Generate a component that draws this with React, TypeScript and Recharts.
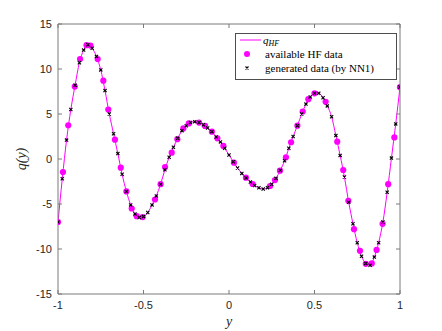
import { ComposedChart, Line, Scatter, XAxis, YAxis } from "recharts";

// NN1 generated points (also used to draw the q_HF curve)
const genY = [
  -1, -0.975, -0.95, -0.925, -0.9, -0.875, -0.85, -0.825, -0.8, -0.775, -0.75, -0.725, -0.7, -0.675,
  -0.65, -0.625, -0.6, -0.575, -0.55, -0.525, -0.5, -0.475, -0.45, -0.425, -0.4, -0.375, -0.35,
  -0.325, -0.3, -0.275, -0.25, -0.225, -0.2, -0.175, -0.15, -0.125, -0.1, -0.075, -0.05, -0.025,
  0, 0.025, 0.05, 0.075, 0.1, 0.125, 0.15, 0.175, 0.2, 0.225, 0.25, 0.275, 0.3, 0.325, 0.35, 0.375,
  0.4, 0.425, 0.45, 0.475, 0.5, 0.525, 0.55, 0.575, 0.6, 0.625, 0.65, 0.675, 0.7, 0.725, 0.75,
  0.775, 0.8, 0.825, 0.85, 0.875, 0.9, 0.925, 0.95, 0.975, 1,
];
const genQ = [
  -7.0, -2.2, 2.1, 5.5, 8.2, 10.7, 12.1, 12.7, 12.3, 11.4, 9.9, 7.6, 5.0, 2.8,
  0.6, -1.7, -3.6, -5.1, -6.1, -6.5, -6.4, -5.95, -5.1, -4.1, -2.8, -1.2, 0.2,
  1.3, 2.3, 3.15, 3.7, 4.05, 4.15, 4.05, 3.8, 3.45, 3.04, 2.45, 1.9, 1.2,
  0.45, -0.3, -1.0, -1.6, -2.1, -2.55, -2.95, -3.2, -3.34, -3.2, -2.8, -2.15, -1.25, -0.2, 1.2, 2.5,
  3.7, 5.0, 6.1, 6.9, 7.3, 7.3, 6.8, 5.9, 4.7, 2.6, 0.4, -2.0, -4.8, -7.2, -9.3,
  -10.8, -11.6, -11.8, -10.9, -9.3, -7.0, -3.7, 0.1, 3.9, 8.0,
];

// available HF data
const hfY = [
  -1, -0.971, -0.94, -0.902, -0.871, -0.833, -0.81, -0.768, -0.735, -0.706, -0.667, -0.633, -0.6,
  -0.569, -0.54, -0.505, -0.433, -0.4, -0.374, -0.335, -0.302, -0.267, -0.235, -0.175, -0.14, -0.1,
  -0.068, -0.033, 0.029, 0.099, 0.138, 0.24, 0.269, 0.298, 0.333, 0.363, 0.4, 0.431, 0.464, 0.5,
  0.565, 0.633, 0.668, 0.698, 0.731, 0.766, 0.8, 0.835, 0.863, 0.898, 0.931, 0.967, 1,
];
const hfQ = [
  -7.0, -1.45, 3.75, 8.05, 11.1, 12.65, 12.6, 11.1, 8.7, 5.5, 2.15, -0.96, -3.6,
  -5.5, -6.35, -6.45, -4.5, -2.8, -0.9, 0.7, 2.2, 3.4, 3.95, 4.05, 3.67, 3.04,
  2.3, 1.45, -0.41, -2.08, -2.78, -3.0, -2.34, -1.3, 0.19, 1.86, 3.7, 5.27, 6.65, 7.3,
  6.35, 1.93, -1.22, -4.64, -7.8, -10.2, -11.65, -11.6, -10.1, -7.2, -2.8, 2.4, 7.98,
];

const xTicks = [-1, -0.5, 0, 0.5, 1];
const yTicks = [-15, -10, -5, 0, 5, 10, 15];

const genData = genY.map((y, i) => ({ y, q: genQ[i] }));
const hfData = hfY.map((y, i) => ({ y, q: hfQ[i] }));

const MAGENTA = "#ff00ff";
const AXIS = "#7a7a7a";
const tickFont = { fill: "#262626", fontSize: 11, fontFamily: "Liberation Sans, Arial, sans-serif" };
const serif = "Liberation Serif, DejaVu Serif, serif";

const Cross = (props: any) => {
  const { cx, cy } = props;
  const s = 1.6;
  return (
    <path
      d={`M${cx - s},${cy - s}L${cx + s},${cy + s}M${cx - s},${cy + s}L${cx + s},${cy - s}`}
      stroke="#000"
      strokeWidth={1.1}
      fill="none"
    />
  );
};

const Dot = (props: any) => <circle cx={props.cx} cy={props.cy} r={3.1} fill={MAGENTA} />;

const empty = () => <g />;

export default function App() {
  return (
    <div style={{ position: "relative", width: 442, height: 331, background: "#fff" }}>
      <style>{"body{margin:0}"}</style>
      <ComposedChart width={442} height={331} margin={{ top: 23, right: 41, bottom: 36, left: 57 }}>
        <XAxis
          xAxisId="b"
          type="number"
          dataKey="y"
          domain={[-1, 1]}
          ticks={xTicks}
          height={1}
          stroke={AXIS}
          tick={tickFont}
          tickSize={-4}
          tickMargin={11}
          allowDataOverflow
          label={{
            content: () => (
              <text x={229} y={326} textAnchor="middle" fontFamily={serif} fontStyle="italic" fontSize={14} fill="#262626">
                y
              </text>
            ),
          }}
        />
        <XAxis
          xAxisId="t"
          orientation="top"
          type="number"
          dataKey="y"
          domain={[-1, 1]}
          ticks={xTicks}
          height={1}
          stroke={AXIS}
          tick={empty}
          tickSize={-4}
          allowDataOverflow
        />
        <YAxis
          yAxisId="l"
          type="number"
          dataKey="q"
          domain={[-15, 15]}
          ticks={yTicks}
          width={1}
          stroke={AXIS}
          tick={tickFont}
          tickSize={-4}
          tickMargin={10}
          allowDataOverflow
          label={{
            content: () => (
              <text
                x={26}
                y={159}
                transform="rotate(-90 26 159)"
                textAnchor="middle"
                fontFamily={serif}
                fontStyle="italic"
                fontSize={14}
                fill="#262626"
              >
                q(y)
              </text>
            ),
          }}
        />
        <YAxis
          yAxisId="r"
          orientation="right"
          type="number"
          dataKey="q"
          domain={[-15, 15]}
          ticks={yTicks}
          width={1}
          stroke={AXIS}
          tick={empty}
          tickSize={-4}
          allowDataOverflow
        />
        <Line
          xAxisId="b"
          yAxisId="l"
          data={genData}
          dataKey="q"
          type="monotone"
          stroke={MAGENTA}
          strokeWidth={1}
          dot={false}
          isAnimationActive={false}
        />
        <Scatter xAxisId="b" yAxisId="l" data={hfData} dataKey="q" shape={Dot} isAnimationActive={false} />
        <Scatter xAxisId="b" yAxisId="l" data={genData} dataKey="q" shape={Cross} isAnimationActive={false} />
      </ComposedChart>
      <svg width={442} height={331} style={{ position: "absolute", left: 0, top: 0, pointerEvents: "none" }}>
        <rect x={235.5} y={33.5} width={161} height={46} fill="#fff" stroke="#4d4d4d" strokeWidth={1} />
        <line x1={240} x2={261} y1={40} y2={40} stroke={MAGENTA} strokeWidth={1} />
        <text x={263} y={43.5} fontFamily={serif} fontSize={11} fontStyle="italic" fill="#000">
          q<tspan fontSize={8} dy={2}>HF</tspan>
        </text>
        <circle cx={247} cy={54} r={3} fill={MAGENTA} />
        <text x={265} y={58} fontFamily={serif} fontSize={11} fill="#000">
          available HF data
        </text>
        <path d="M245.5,66.5L248.5,69.5M245.5,69.5L248.5,66.5" stroke="#000" strokeWidth={1.1} />
        <text x={265} y={72} fontFamily={serif} fontSize={11} fill="#000">
          generated data (by NN1)
        </text>
      </svg>
    </div>
  );
}
